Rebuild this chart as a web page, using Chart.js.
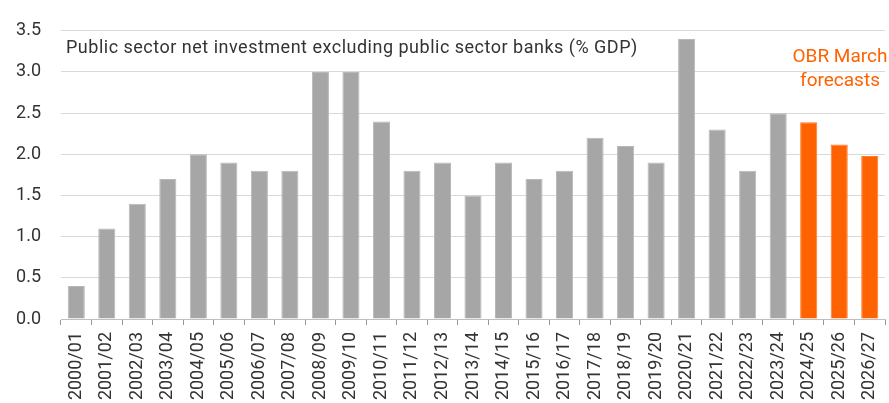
<!DOCTYPE html>
<html>
<head>
<meta charset="utf-8">
<script src="https://cdn.jsdelivr.net/npm/chart.js@4/dist/chart.umd.min.js"></script>
<style>
  html, body { margin: 0; padding: 0; background: #fff; }
  #wrap { width: 889px; height: 403px; }
</style>
</head>
<body>
<div id="wrap"><canvas id="chart" width="889" height="403"></canvas></div>
<script>
// fiscal years
const years = ['2000/01', '2001/02', '2002/03', '2003/04', '2004/05', '2005/06', '2006/07', '2007/08',
  '2008/09', '2009/10', '2010/11', '2011/12', '2012/13', '2013/14', '2014/15', '2015/16', '2016/17',
  '2017/18', '2018/19', '2019/20', '2020/21', '2021/22', '2022/23', '2023/24', '2024/25', '2025/26', '2026/27'];

// % of GDP, last three are OBR forecasts
const investment = [0.4, 1.1, 1.4, 1.7, 2.0, 1.9, 1.8, 1.8, 3.0, 3.0, 2.4, 1.8, 1.9, 1.5, 1.9, 1.7, 1.8,
  2.2, 2.1, 1.9, 3.4, 2.3, 1.8, 2.5, 2.39, 2.12, 1.98];
const forecastFrom = 24;

const yTicks = [0, 0.5, 1, 1.5, 2, 2.5, 3, 3.5];

const grey = '#a6a6a6';
const orange = '#ff6200';
const FONT = 'Roboto, "Noto Sans", sans-serif';

const labelsPlugin = {
  id: 'labels',
  afterDraw(chart) {
    const ctx = chart.ctx;
    const area = chart.chartArea;
    ctx.save();
    ctx.textBaseline = 'alphabetic';
    ctx.font = '18px ' + FONT;
    ctx.fillStyle = '#333333';
    ctx.textAlign = 'left';
    ctx.letterSpacing = '0.5px';
    ctx.fillText('Public sector net investment excluding public sector banks (% GDP)', area.left + 5, 53);
    ctx.letterSpacing = '0px';
    ctx.fillStyle = orange;
    ctx.textAlign = 'center';
    ctx.font = '19px ' + FONT;
    ctx.fillText('OBR March', 840, 62);
    ctx.fillText('forecasts', 840, 86);
    ctx.restore();
  }
};

new Chart(document.getElementById('chart'), {
  type: 'bar',
  data: {
    labels: years,
    datasets: [{
      data: investment,
      backgroundColor: investment.map((v, i) => i >= forecastFrom ? orange : grey),
      borderColor: investment.map((v, i) => i >= forecastFrom ? '#ff7a2a' : '#b8b8b8'),
      borderWidth: 1,
      barPercentage: 0.56,
      categoryPercentage: 1.0
    }]
  },
  options: {
    responsive: false,
    animation: false,
    layout: { padding: { left: 0, right: 4, top: 25, bottom: 0 } },
    plugins: {
      legend: { display: false },
      tooltip: { enabled: false }
    },
    scales: {
      x: {
        afterFit(axis) {
          axis.height = 84;
          axis.paddingLeft = 0;
          axis.paddingRight = 0;
        },
        grid: {
          drawOnChartArea: false,
          drawTicks: true,
          tickLength: 6,
          color: '#999999'
        },
        border: { display: true, color: '#bfbfbf' },
        ticks: {
          color: '#333333',
          font: { family: FONT, size: 18 },
          minRotation: 90,
          maxRotation: 90,
          autoSkip: false,
          padding: 7
        }
      },
      y: {
        min: 0,
        max: 3.5,
        afterFit(axis) { axis.width = 61; },
        afterBuildTicks(axis) {
          axis.ticks = yTicks.map(v => ({ value: v }));
        },
        grid: {
          color: '#d9d9d9',
          drawTicks: false
        },
        border: { display: false },
        ticks: {
          color: '#333333',
          font: { family: FONT, size: 18 },
          padding: 20,
          callback: v => v.toFixed(1)
        }
      }
    }
  },
  plugins: [labelsPlugin]
});
</script>
</body>
</html>
